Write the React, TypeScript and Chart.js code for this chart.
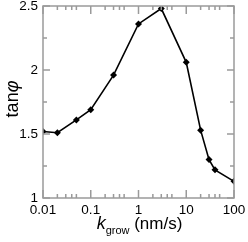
import React, { useEffect, useRef } from "react";
import { Chart, registerables } from "chart.js";

Chart.register(...registerables);

const kGrow = [0.01, 0.02, 0.05, 0.1, 0.3, 1, 3, 10, 20, 30, 40, 100];
const tanPhi = [1.52, 1.51, 1.61, 1.69, 1.96, 2.36, 2.48, 2.06, 1.53, 1.3, 1.22, 1.13];
const xMajorTicks = [0.01, 0.1, 1, 10, 100];
const xMajorLabels = ["0.01", "0.1", "1", "10", "100"];
const xMinorMultipliers = [2, 3, 4, 5];
const yMajorTicks = [1, 1.5, 2, 2.5];
const yMajorLabels = ["1", "1.5", "2", "2.5"];
const yMinorTicks = [1.25, 1.75, 2.25];

const FONT = "'Liberation Sans', Arial, Helvetica, sans-serif";
const FRAME = "#9a9a9a";

const framePlugin = {
  id: "framePlugin",
  afterDraw(chart: any) {
    const { ctx, chartArea: a, scales } = chart;
    const xs = scales.x;
    const ys = scales.y;
    ctx.save();
    ctx.strokeStyle = FRAME;
    ctx.lineWidth = 1.5;
    ctx.strokeRect(a.left, a.top, a.right - a.left, a.bottom - a.top);
    ctx.beginPath();
    const xTick = (v: number, len: number) => {
      const px = xs.getPixelForValue(v);
      ctx.moveTo(px, a.bottom);
      ctx.lineTo(px, a.bottom - len);
      ctx.moveTo(px, a.top);
      ctx.lineTo(px, a.top + len);
    };
    const yTick = (v: number, len: number) => {
      const py = ys.getPixelForValue(v);
      ctx.moveTo(a.left, py);
      ctx.lineTo(a.left + len, py);
      ctx.moveTo(a.right, py);
      ctx.lineTo(a.right - len, py);
    };
    xMajorTicks.forEach((v, i) => {
      xTick(v, 8);
      if (i < xMajorTicks.length - 1) xMinorMultipliers.forEach((m) => xTick(v * m, 4));
    });
    yMajorTicks.forEach((v) => yTick(v, 7));
    yMinorTicks.forEach((v) => yTick(v, 4));
    ctx.stroke();

    // y title: tanφ
    ctx.fillStyle = "#000";
    ctx.save();
    ctx.translate(13, (a.top + a.bottom) / 2 - 3);
    ctx.rotate(-Math.PI / 2);
    ctx.textBaseline = "middle";
    ctx.font = `18px ${FONT}`;
    const t1 = "tan";
    const w1 = ctx.measureText(t1).width;
    ctx.font = `italic 18px ${FONT}`;
    const w2 = ctx.measureText("φ").width;
    const start = -(w1 + w2) / 2;
    ctx.font = `18px ${FONT}`;
    ctx.textAlign = "left";
    ctx.fillText(t1, start, 0);
    ctx.font = `italic 18px ${FONT}`;
    ctx.fillText("φ", start + w1, 0);
    ctx.restore();

    // x title: k_grow (nm/s)
    ctx.save();
    ctx.textBaseline = "alphabetic";
    ctx.textAlign = "left";
    const base = 229;
    ctx.font = `italic 18px ${FONT}`;
    const wk = ctx.measureText("k").width;
    ctx.font = `11px ${FONT}`;
    const wg = ctx.measureText("grow").width;
    ctx.font = `17px ${FONT}`;
    const wu = ctx.measureText(" (nm/s)").width;
    let x0 = (a.left + a.right) / 2 - (wk + wg + wu) / 2 + 1;
    ctx.font = `italic 18px ${FONT}`;
    ctx.fillText("k", x0, base);
    x0 += wk;
    ctx.font = `11px ${FONT}`;
    ctx.fillText("grow", x0, base + 5);
    x0 += wg;
    ctx.font = `17px ${FONT}`;
    ctx.fillText(" (nm/s)", x0, base);
    ctx.restore();
    ctx.restore();
  },
};

export default function App() {
  const ref = useRef<HTMLCanvasElement>(null);
  useEffect(() => {
    document.body.style.margin = "0";
    if (!ref.current) return;
    const chart = new Chart(ref.current, {
      type: "scatter",
      data: {
        datasets: [
          {
            data: kGrow.map((x, i) => ({ x, y: tanPhi[i] })),
            showLine: true,
            borderColor: "#000",
            backgroundColor: "#000",
            borderWidth: 1.6,
            pointStyle: "rectRot",
            pointRadius: 3.5,
            pointBorderWidth: 0,
          },
        ],
      },
      options: {
        animation: false,
        responsive: false,
        devicePixelRatio: 1,
        layout: { padding: { top: 6, right: 14, bottom: 0, left: 0 } },
        plugins: { legend: { display: false }, tooltip: { enabled: false } },
        scales: {
          x: {
            type: "logarithmic",
            min: 0.01,
            max: 100,
            grid: { display: false, drawTicks: false },
            border: { display: false },
            afterBuildTicks: (s: any) => {
              s.ticks = xMajorTicks.map((v) => ({ value: v }));
            },
            afterFit: (s: any) => {
              s.height = 44;
              s.paddingLeft = 0;
              s.paddingRight = 0;
            },
            ticks: {
              padding: 4,
              color: "#000",
              maxRotation: 0,
              autoSkip: false,
              font: { family: FONT, size: 13.5 },
              callback: (v: any) => {
                const i = xMajorTicks.findIndex((t) => Math.abs(t - v) / t < 1e-6);
                return i >= 0 ? xMajorLabels[i] : "";
              },
            },
          },
          y: {
            min: 1,
            max: 2.5,
            grid: { display: false, drawTicks: false },
            border: { display: false },
            afterBuildTicks: (s: any) => {
              s.ticks = yMajorTicks.map((v) => ({ value: v }));
            },
            afterFit: (s: any) => {
              s.width = 43;
              s.paddingTop = 0;
              s.paddingBottom = 0;
            },
            ticks: {
              padding: 5,
              color: "#000",
              autoSkip: false,
              font: { family: FONT, size: 13.5 },
              callback: (v: any) => {
                const i = yMajorTicks.findIndex((t) => Math.abs(t - v) < 1e-6);
                return i >= 0 ? yMajorLabels[i] : "";
              },
            },
          },
        },
      },
      plugins: [framePlugin],
    } as any);
    return () => chart.destroy();
  }, []);
  return (
    <div style={{ width: 248, height: 242 }}>
      <canvas ref={ref} width={248} height={242} style={{ width: 248, height: 242, display: "block" }} />
    </div>
  );
}
